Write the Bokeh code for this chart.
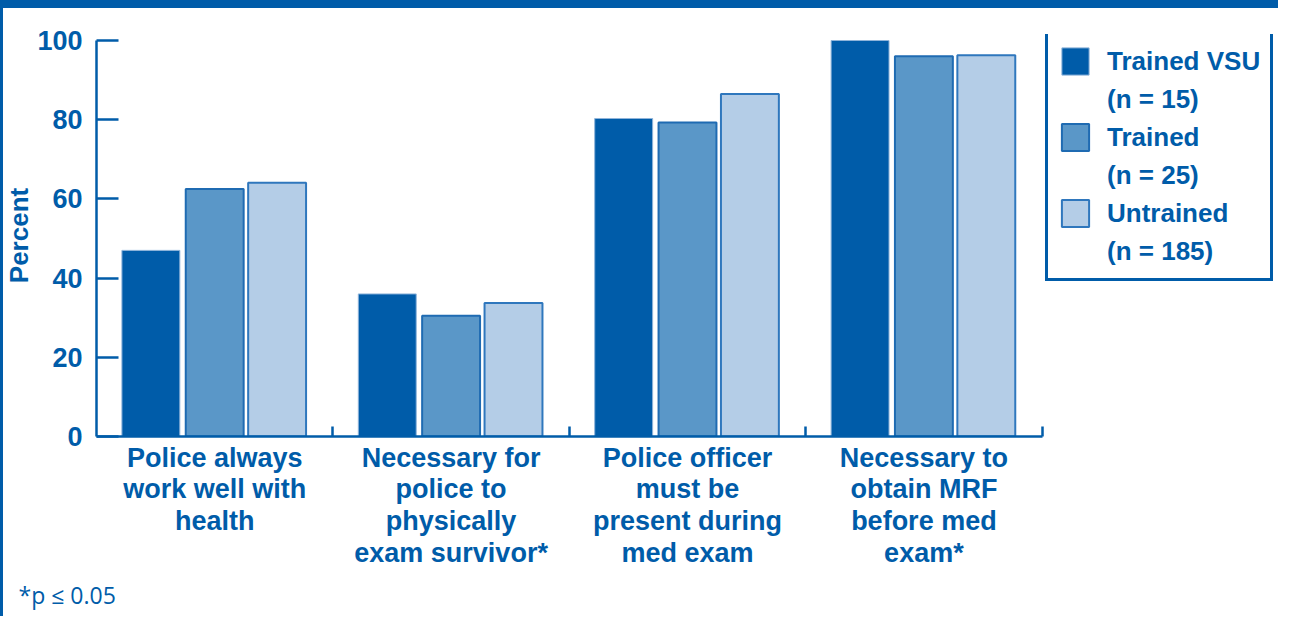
from bokeh.plotting import figure
from bokeh.models import (FixedTicker, Legend, LegendItem, Title,
                          Range1d, ColumnDataSource)
from bokeh.transform import dodge
from bokeh.embed import file_html
from bokeh.resources import INLINE

# ---------------- data ----------------
categories = [
    "Police always\nwork well with\nhealth",
    "Necessary for\npolice to\nphysically\nexam survivor*",
    "Police officer\nmust be\npresent during\nmed exam",
    "Necessary to\nobtain MRF\nbefore med\nexam*",
]
series_names = ["Trained VSU", "Trained", "Untrained"]
series_n = ["(n = 15)", "(n = 25)", "(n = 185)"]
trained_vsu = [47.0, 36.0, 80.3, 100.0]
trained = [62.5, 30.5, 79.3, 96.0]
untrained = [64.1, 33.7, 86.5, 96.3]
y_ticks = [0, 20, 40, 60, 80, 100]
y_label = "Percent"
footnote = "*p \u2264 0.05"

# ---------------- styling ----------------
BLUE = "#005ca9"
MID = "#5a97c8"
LIGHT = "#b4cde7"
FONT = "Liberation Sans"

n_cat = len(categories)
centers = [i + 0.5 for i in range(n_cat)]
boundaries = [i + 1 for i in range(n_cat)]

src = ColumnDataSource(dict(x=centers, vsu=trained_vsu, tr=trained, un=untrained))

# the frame extends to the right edge (and a little above 100) so the legend, drawn
# inside the frame, is not clipped; the axes themselves are bounded to the data area
p = figure(width=1278, height=616, output_backend="svg", toolbar_location=None,
           x_range=Range1d(0, n_cat + 1), y_range=Range1d(0, 100 * 402 / 396),
           min_border_left=96, min_border_right=0, min_border_top=34,
           min_border_bottom=180)
p.outline_line_color = None
p.grid.visible = False
p.background_fill_color = "white"
p.border_fill_alpha = 0
p.styles = {
    "background": "linear-gradient(to bottom, #005ca9 0px, #005ca9 8px, transparent 8px), "
                  "linear-gradient(to right, #005ca9 0px, #005ca9 3px, white 3px)"
}

W = 0.245
r1 = p.vbar(x=dodge("x", -0.270, range=p.x_range), top="vsu", width=W, bottom=0,
            source=src, fill_color=BLUE, line_color="#8fb4da", line_width=1)
r2 = p.vbar(x=dodge("x", 0.0, range=p.x_range), top="tr", width=W, bottom=0,
            source=src, fill_color=MID, line_color="#1f6bb2", line_width=2)
r3 = p.vbar(x=dodge("x", 0.264, range=p.x_range), top="un", width=W, bottom=0,
            source=src, fill_color=LIGHT, line_color="#2f77bd", line_width=2)
# invisible renderer used only for the second text line of each legend entry
r_blank = p.vbar(x=[], top=[], width=W, fill_alpha=0, line_alpha=0)

# x axis
xa = p.xaxis[0]
xa.bounds = (0, n_cat)
xa.ticker = FixedTicker(ticks=centers, minor_ticks=boundaries)
xa.major_label_overrides = {c: lab for c, lab in zip(centers, categories)}
xa.major_tick_in = 0
xa.major_tick_out = 0
xa.minor_tick_in = 10
xa.minor_tick_out = 0
xa.minor_tick_line_color = BLUE
xa.minor_tick_line_width = 2.5
xa.axis_line_color = BLUE
xa.axis_line_width = 2.5
xa.major_label_text_font = FONT
xa.major_label_text_font_style = "bold"
xa.major_label_text_font_size = "27px"
xa.major_label_text_color = BLUE
xa.major_label_text_line_height = 1.06
xa.major_label_standoff = 6
xa.major_label_orientation = "horizontal"

# y axis
ya = p.yaxis[0]
ya.bounds = (0, 100)
ya.ticker = FixedTicker(ticks=y_ticks, minor_ticks=[])
ya.major_tick_in = 22
ya.major_tick_out = 0
ya.major_tick_line_color = BLUE
ya.major_tick_line_width = 2.5
ya.axis_line_color = BLUE
ya.axis_line_width = 2.5
ya.major_label_text_font = FONT
ya.major_label_text_font_style = "bold"
ya.major_label_text_font_size = "27px"
ya.major_label_text_color = BLUE
ya.major_label_standoff = 14
ya.axis_label = y_label
ya.axis_label_text_font = FONT
ya.axis_label_text_font_style = "bold"
ya.axis_label_text_font_size = "26px"
ya.axis_label_text_color = BLUE
ya.axis_label_standoff = 0

# legend
items = []
for name, n, r in zip(series_names, series_n, [r1, r2, r3]):
    items.append(LegendItem(label=name, renderers=[r]))
    items.append(LegendItem(label=n, renderers=[r_blank]))
legend = Legend(items=items, location=(949, 155), orientation="vertical",
                label_text_font=FONT, label_text_font_style="bold", label_text_font_size="26px",
                label_text_color=BLUE, label_height=30,
                glyph_width=34, glyph_height=34, label_standoff=15,
                padding=10, spacing=4, margin=0,
                border_line_color=BLUE, border_line_width=3, border_line_alpha=1,
                background_fill_color="white", background_fill_alpha=1)
p.add_layout(legend)

# footnote as a bottom title
note = Title(text=footnote, align="left", offset=-78, standoff=12,
             text_font="Open Sans", text_font_size="23px", text_font_style="normal",
             text_color=BLUE)
p.add_layout(note, "below")

open("out.html", "w").write(file_html(p, INLINE))
